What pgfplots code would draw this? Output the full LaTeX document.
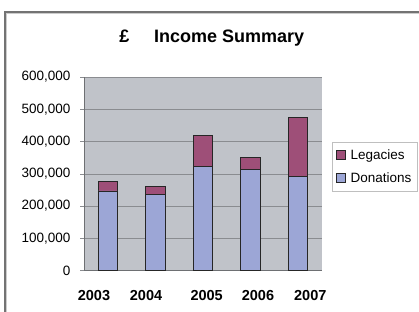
\documentclass[border=0pt]{standalone}
\usepackage{fontspec}
\setmainfont{Liberation Sans}
\usepackage{pgfplots}
\pgfplotsset{compat=1.18}
\definecolor{bggray}{HTML}{C0C3C9}
\definecolor{legc}{HTML}{9E4F78}
\definecolor{donc}{HTML}{9CA6D6}
\definecolor{gridc}{HTML}{8A8C90}
\begin{document}
\begin{tikzpicture}
\path[use as bounding box] (0pt,0pt) rectangle (419pt,312pt);
\fill[white] (0pt,0pt) rectangle (419pt,312pt);
\draw[black!20, line width=1.2pt] (6.6pt,0pt) -- (6.6pt,298.4pt) -- (419pt,298.4pt);
\draw[black!55, line width=1.1pt] (5pt,0pt) -- (5pt,300pt) -- (419pt,300pt);
\node[anchor=base, inner sep=0pt, font=\fontsize{18}{20}\selectfont\bfseries] at (124.5pt,269.7pt) {£};
\node[anchor=base west, inner sep=0pt, font=\fontsize{18}{20}\selectfont\bfseries] at (154pt,269.7pt) {Income Summary};
\begin{axis}[
  at={(84pt,41.3pt)}, anchor=south west,
  scale only axis, width=237.7pt, height=193.7pt,
  ybar stacked, bar width=19.5pt,
  xmin=-0.5, xmax=4.5, ymin=0, ymax=600000,
  xtick={-0.29,0.805,2.08,3.16,4.26},
  xticklabels={2003,2004,2005,2006,2007},
  xtick style={draw=none},
  xticklabel style={anchor=base, yshift=-26pt, font=\fontsize{14.5}{16}\selectfont\bfseries},
  ytick={0,100000,200000,300000,400000,500000,600000},
  scaled y ticks=false,
  yticklabel style={xshift=-6pt, font=\fontsize{13.5}{16}\selectfont, /pgf/number format/.cd, fixed, 1000 sep={,}, assume math mode=true},
  tick align=outside, major tick length=4pt,
  ytick style={draw=gridc, line width=0.6pt},
  ymajorgrids, grid style={draw=gridc, line width=0.6pt},
  axis x line*=bottom, axis y line*=left,
  axis line style={draw=gridc!80!black, line width=0.7pt, -},
  axis background/.style={fill=bggray},
  legend style={at={(rel axis cs:1.042,0.663)}, anchor=north west, draw=black!25, fill=white,
    font=\fontsize{13.5}{16}\selectfont, row sep=8pt, inner xsep=4pt, inner ysep=5pt, cells={anchor=west},
    /tikz/every odd column/.append style={column sep=3pt}},
  reverse legend,
  legend image code/.code={\draw[#1] (0pt,-4.5pt) rectangle (9pt,4.5pt);},
]
\addplot[fill=donc, draw=black!85, line width=0.8pt] coordinates {(0,247000) (1,235000) (2,323000) (3,315000) (4,291000)};
\addplot[fill=legc, draw=black!85, line width=0.8pt] coordinates {(0,30000) (1,26000) (2,96000) (3,36000) (4,183000)};
\legend{Donations,Legacies}
\end{axis}
\end{tikzpicture}
\end{document}
